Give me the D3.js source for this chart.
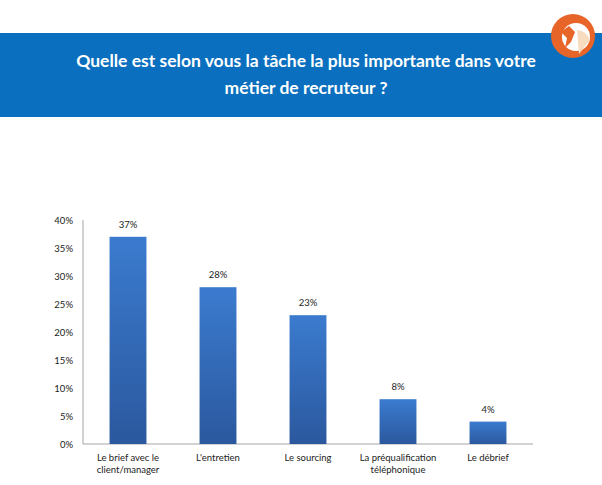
<!DOCTYPE html>
<html>
<head>
<meta charset="utf-8">
<script src="https://cdn.jsdelivr.net/npm/d3@7"></script>
<style>
  body { margin: 0; background: #fff; }
  svg { display: block; }
</style>
</head>
<body>
<div id="chart"></div>
<script>
const categories = [['Le brief avec le', 'client/manager'], ["L'entretien"], ['Le sourcing'], ['La préqualification', 'téléphonique'], ['Le débrief']]
const values = [37, 28, 23, 8, 4]
const yTicks = [0, 5, 10, 15, 20, 25, 30, 35, 40]
const titleLines = ['Quelle est selon vous la tâche la plus importante dans votre', 'métier de recruteur ?']

const width = 602
const height = 485
const font = 'Lato, "Open Sans", sans-serif'

const svg = d3.select('#chart').append('svg')
  .attr('width', width)
  .attr('height', height)

const defs = svg.append('defs')
const grad = defs.append('linearGradient')
  .attr('id', 'barGrad')
  .attr('x1', 0).attr('y1', 0).attr('x2', 0).attr('y2', 1)
grad.append('stop').attr('offset', '0%').attr('stop-color', '#3b7bcf')
grad.append('stop').attr('offset', '100%').attr('stop-color', '#2b589e')

// banner
svg.append('rect')
  .attr('x', 0).attr('y', 33)
  .attr('width', width).attr('height', 84)
  .attr('fill', '#0a6fbe')

svg.selectAll('text.title')
  .data(titleLines)
  .enter()
  .append('text')
  .attr('class', 'title')
  .attr('x', 306)
  .attr('y', (d, i) => 67 + i * 27)
  .attr('text-anchor', 'middle')
  .style('font-family', font)
  .style('font-weight', 'bold')
  .style('font-size', '17.5px')
  .style('fill', '#fff')
  .text(d => d)

// logo (simplified fox ring)
const logo = svg.append('g').attr('transform', 'translate(573,36)')
logo.append('circle').attr('r', 22).attr('fill', '#e8652a')
logo.append('circle').attr('r', 14).attr('cx', 3).attr('cy', 1).attr('fill', '#fff')
logo.append('path')
  .attr('d', 'M4,-6 A14,14 0 0 1 17,4 L6,18 Z')
  .attr('fill', '#f7dcc0')
logo.append('path')
  .attr('d', 'M-12,-4 L-4,-10 L2,-4 L-2,6 L-8,12 L-6,2 Z')
  .attr('fill', '#e8652a')

// chart
const margin = { left: 83, right: 69, top: 220, bottom: 41 }
const x = d3.scaleBand()
  .domain(d3.range(values.length))
  .range([margin.left, width - margin.right])
  .paddingInner(0.59)
  .paddingOuter(0.295)

const y = d3.scaleLinear()
  .domain([0, 40])
  .range([height - margin.bottom, margin.top])

const yAxis = svg.append('g')
  .attr('transform', `translate(${margin.left},0)`)
  .call(d3.axisLeft(y).tickValues(yTicks).tickSize(0).tickPadding(10).tickFormat(d => d + '%'))
yAxis.select('.domain').attr('stroke', '#a6a6a6').attr('d', `M0,${y(0)}V${y(40)}`)
yAxis.selectAll('text').style('font-family', font).style('font-size', '9.5px').style('fill', '#222')

const xAxis = svg.append('g')
  .attr('transform', `translate(0,${y(0)})`)
  .call(d3.axisBottom(x).tickSize(0).tickFormat(''))
xAxis.select('.domain').attr('stroke', '#a6a6a6').attr('d', `M${margin.left},0H${width - margin.right}`)

svg.append('g')
  .selectAll('rect')
  .data(values)
  .enter()
  .append('rect')
  .attr('x', (d, i) => x(i))
  .attr('y', d => y(d))
  .attr('width', x.bandwidth())
  .attr('height', d => y(0) - y(d))
  .attr('fill', 'url(#barGrad)')

svg.append('g')
  .selectAll('text')
  .data(values)
  .enter()
  .append('text')
  .attr('x', (d, i) => x(i) + x.bandwidth() / 2)
  .attr('y', d => y(d) - 9)
  .attr('text-anchor', 'middle')
  .style('font-family', font)
  .style('font-size', '9.5px')
  .style('fill', '#222')
  .text(d => d + '%')

const catLabels = svg.append('g')
  .selectAll('text')
  .data(categories)
  .enter()
  .append('text')
  .attr('x', (d, i) => x(i) + x.bandwidth() / 2)
  .attr('y', y(0) + 17)
  .attr('text-anchor', 'middle')
  .style('font-family', font)
  .style('font-size', '9.5px')
  .style('fill', '#222')

catLabels.selectAll('tspan')
  .data(d => d)
  .enter()
  .append('tspan')
  .attr('x', function () { return d3.select(this.parentNode).attr('x') })
  .attr('dy', (d, i) => i === 0 ? 0 : 12)
  .text(d => d)
</script>
</body>
</html>
